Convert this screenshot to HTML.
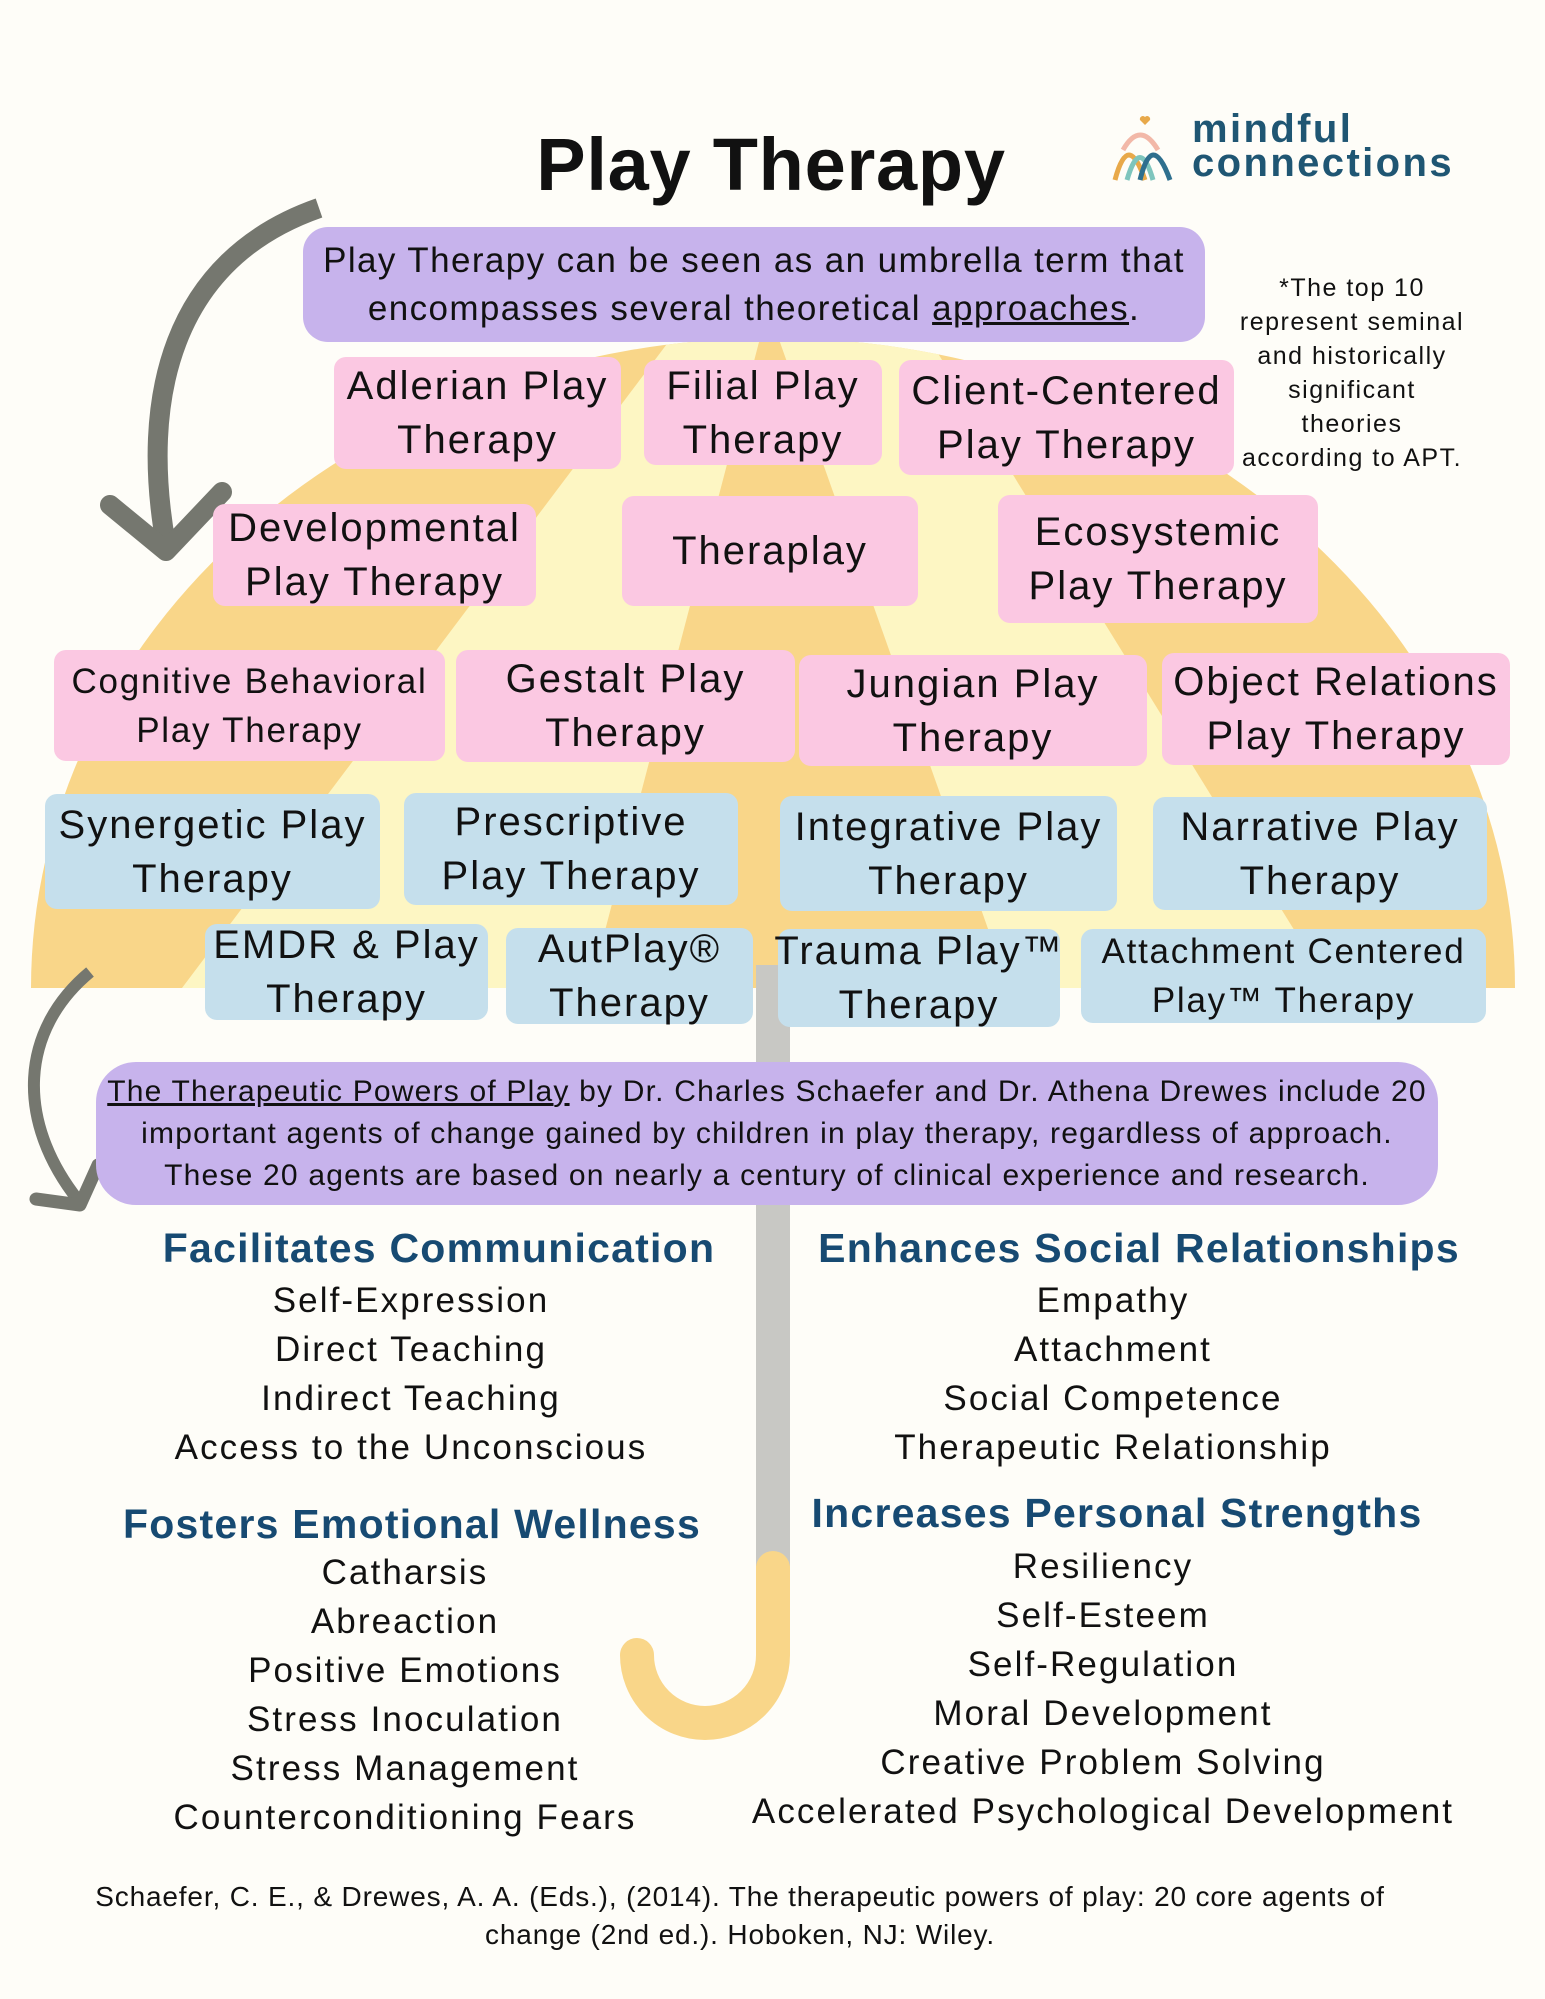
<!DOCTYPE html>
<html><head><meta charset="utf-8"><style>
body{margin:0;background:#fefdf8;}
#p{position:relative;width:1545px;height:1999px;overflow:hidden;background:#fefdf8;font-family:"Liberation Sans",sans-serif;color:#111;}
.b{position:absolute;display:flex;flex-direction:column;justify-content:center;align-items:center;text-align:center;border-radius:12px;font-size:40px;letter-spacing:0.05em;line-height:54px;white-space:nowrap;}
.pk{background:#fbc8e2;}
.bl{background:#c5dfec;}
.t{position:absolute;width:900px;text-align:center;white-space:nowrap;}
.h{font-weight:bold;color:#174a72;font-size:41px;letter-spacing:0.03em;line-height:50px;}
.i{font-size:35px;letter-spacing:0.06em;line-height:49px;}
</style></head><body><div id="p">
<svg width="1545" height="1999" style="position:absolute;left:0;top:0">
<defs><clipPath id="dome"><path d="M31 988 A742 650 0 0 1 1515 988 Z"/></clipPath></defs>
<path d="M31 988 A742 650 0 0 1 1515 988 Z" fill="#f9d689"/>
<g clip-path="url(#dome)" fill="#fdf6c3">
<polygon points="700,300 770,300 590,988 182,988"/>
<polygon points="765,300 905,300 1330,988 1009,988"/>
</g>
<rect x="756" y="965" width="34" height="605" fill="#c8c8c4"/>
<path d="M773 1568 L773 1655 A68 68 0 0 1 637 1655" fill="none" stroke="#f9d689" stroke-width="34" stroke-linecap="round"/>
<rect x="756" y="1566" width="34" height="20" fill="#f9d689"/>
<path d="M319 208 C170 260 140 400 166 545" fill="none" stroke="#75776f" stroke-width="20"/>
<path d="M110 505 L166 551 L222 492" fill="none" stroke="#75776f" stroke-width="20" stroke-linecap="round" stroke-linejoin="round"/>
<path d="M90 972 C20 1030 15 1120 78 1200" fill="none" stroke="#75776f" stroke-width="12"/>
<path d="M36 1199 L80 1205 L98 1165" fill="none" stroke="#75776f" stroke-width="13" stroke-linecap="round" stroke-linejoin="round"/>
<path d="M1123 150 Q1140 120 1158 150" fill="none" stroke="#f2b8a8" stroke-width="5"/>
<path d="M1115 180 Q1128 130 1145 180" fill="none" stroke="#e8a94a" stroke-width="5"/>
<path d="M1127 180 Q1140 135 1153 180" fill="none" stroke="#7ec5bd" stroke-width="5"/>
<path d="M1140 180 Q1152 130 1170 180" fill="none" stroke="#2e6f8e" stroke-width="5"/>
<path d="M1145 125 l-5 -5 a3 3 0 0 1 5 -3 a3 3 0 0 1 5 3 z" fill="#e8a94a"/>
</svg>
<div class="t" style="left:321px;top:120px;font-size:74px;letter-spacing:0.01em;font-weight:bold;line-height:90px;">Play Therapy</div>
<div style="position:absolute;left:1192px;top:112px;font-size:40px;letter-spacing:0.06em;font-weight:bold;color:#1f5673;line-height:34px;">mindful<br>connections</div>
<div class="b" style="left:303px;top:227px;width:902px;height:115px;background:#c7b3ec;border-radius:25px;font-size:35px;letter-spacing:0.04em;line-height:48px;">Play Therapy can be seen as an umbrella term that<br><span>encompasses several theoretical <u>approaches</u>.</span></div>
<div class="t" style="left:902px;top:271px;font-size:25px;letter-spacing:0.06em;line-height:34px;">*The top 10<br>represent seminal<br>and historically<br>significant<br>theories<br>according to APT.</div>
<div class="b pk" style="left:334px;top:357px;width:287px;height:112px">Adlerian Play<br>Therapy</div>
<div class="b pk" style="left:644px;top:360px;width:238px;height:105px">Filial Play<br>Therapy</div>
<div class="b pk" style="left:899px;top:360px;width:335px;height:115px">Client-Centered<br>Play Therapy</div>
<div class="b pk" style="left:213px;top:504px;width:323px;height:102px">Developmental<br>Play Therapy</div>
<div class="b pk" style="left:622px;top:496px;width:296px;height:110px">Theraplay</div>
<div class="b pk" style="left:998px;top:495px;width:320px;height:128px">Ecosystemic<br>Play Therapy</div>
<div class="b pk" style="left:54px;top:650px;width:391px;height:111px;font-size:35px;line-height:49px">Cognitive Behavioral<br>Play Therapy</div>
<div class="b pk" style="left:456px;top:650px;width:339px;height:112px">Gestalt Play<br>Therapy</div>
<div class="b pk" style="left:799px;top:655px;width:348px;height:111px">Jungian Play<br>Therapy</div>
<div class="b pk" style="left:1162px;top:653px;width:348px;height:112px">Object Relations<br>Play Therapy</div>
<div class="b bl" style="left:45px;top:794px;width:335px;height:115px">Synergetic Play<br>Therapy</div>
<div class="b bl" style="left:404px;top:793px;width:334px;height:112px">Prescriptive<br>Play Therapy</div>
<div class="b bl" style="left:780px;top:796px;width:337px;height:115px">Integrative Play<br>Therapy</div>
<div class="b bl" style="left:1153px;top:797px;width:334px;height:113px">Narrative Play<br>Therapy</div>
<div class="b bl" style="left:205px;top:924px;width:283px;height:96px">EMDR &amp; Play<br>Therapy</div>
<div class="b bl" style="left:506px;top:928px;width:247px;height:96px">AutPlay®<br>Therapy</div>
<div class="b bl" style="left:778px;top:929px;width:282px;height:98px">Trauma Play™<br>Therapy</div>
<div class="b bl" style="left:1081px;top:929px;width:405px;height:94px;font-size:35px;line-height:49px">Attachment Centered<br>Play™ Therapy</div>
<div class="b" style="left:96px;top:1062px;width:1342px;height:143px;background:#c7b3ec;border-radius:40px;font-size:30px;letter-spacing:0.04em;line-height:42px;"><span><u>The Therapeutic Powers of Play</u> by Dr. Charles Schaefer and Dr. Athena Drewes include 20</span>important agents of change gained by children in play therapy, regardless of approach.<br>These 20 agents are based on nearly a century of clinical experience and research.</div>
<div class="t h" style="left:-11px;top:1223px">Facilitates Communication</div>
<div class="t i" style="left:-39px;top:1276px">Self-Expression<br>Direct Teaching<br>Indirect Teaching<br>Access to the Unconscious</div>
<div class="t h" style="left:-38px;top:1499px">Fosters Emotional Wellness</div>
<div class="t i" style="left:-45px;top:1548px">Catharsis<br>Abreaction<br>Positive Emotions<br>Stress Inoculation<br>Stress Management<br>Counterconditioning Fears</div>
<div class="t h" style="left:689px;top:1223px">Enhances Social Relationships</div>
<div class="t i" style="left:663px;top:1276px">Empathy<br>Attachment<br>Social Competence<br>Therapeutic Relationship</div>
<div class="t h" style="left:667px;top:1488px">Increases Personal Strengths</div>
<div class="t i" style="left:653px;top:1542px">Resiliency<br>Self-Esteem<br>Self-Regulation<br>Moral Development<br>Creative Problem Solving<br>Accelerated Psychological Development</div>
<div class="t" style="left:-60px;width:1600px;top:1878px;font-size:28px;letter-spacing:0.03em;line-height:38px">Schaefer, C. E., &amp; Drewes, A. A. (Eds.), (2014). The therapeutic powers of play: 20 core agents of<br>change (2nd ed.). Hoboken, NJ: Wiley.</div>
</div></body></html>
